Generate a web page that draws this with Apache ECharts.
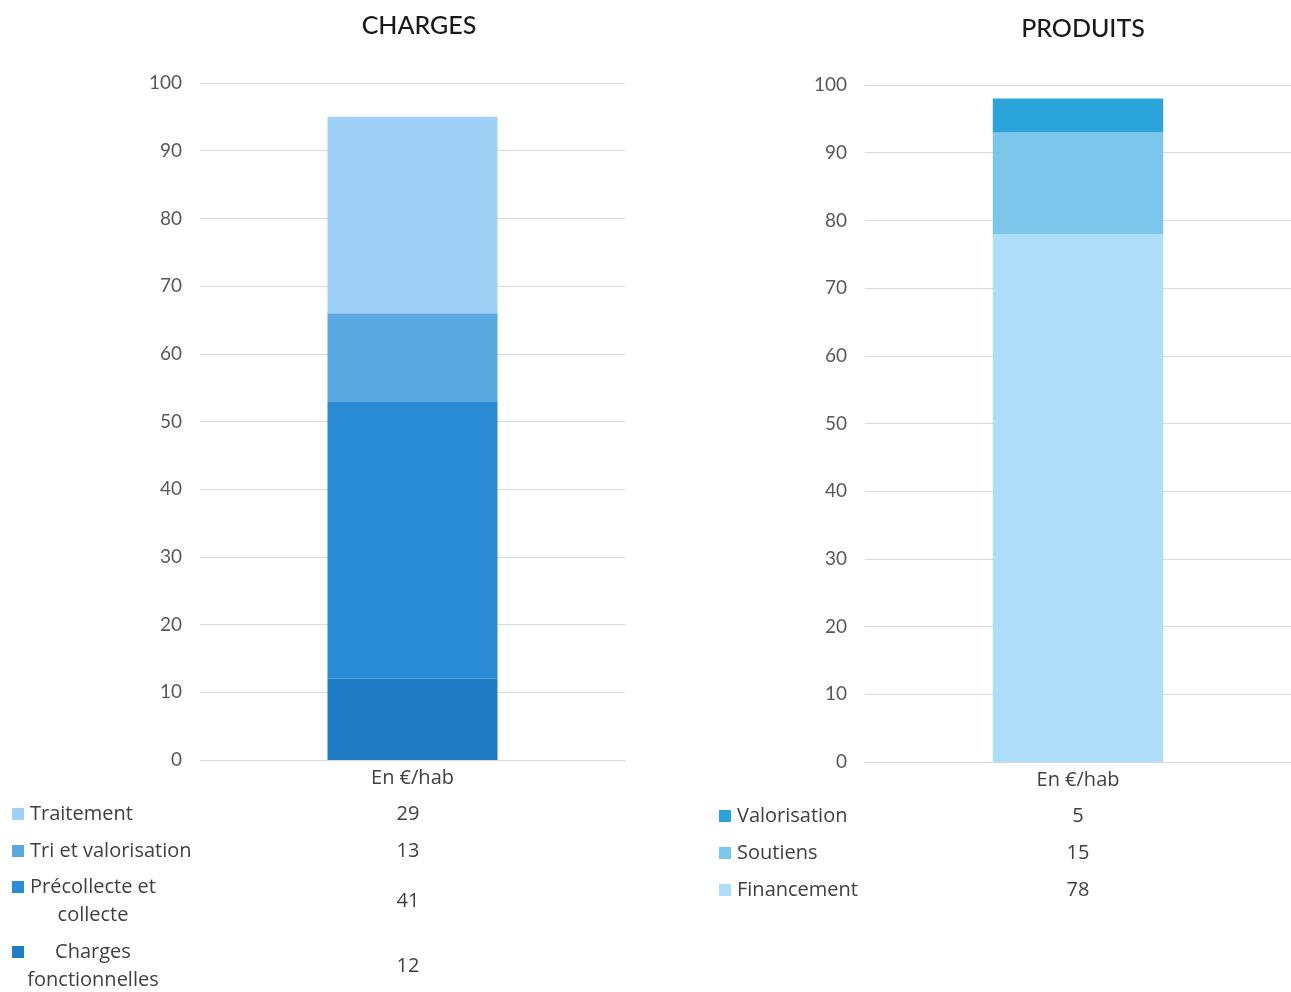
<!DOCTYPE html>
<html>
<head>
<meta charset="utf-8">
<script src="https://cdn.jsdelivr.net/npm/echarts@6/dist/echarts.min.js"></script>
<style>
  html, body { margin: 0; padding: 0; background: #fff; }
  #chart { width: 1291px; height: 992px; }
</style>
</head>
<body>
<div id="chart"></div>
<script>
// catégorie unique
const categories = ['En €/hab'];

// CHARGES, de bas en haut
const chargesNames = ['Charges fonctionnelles', 'Précollecte et collecte', 'Tri et valorisation', 'Traitement'];
const chargesValues = [12, 41, 13, 29];
const chargesColors = ['#1f7cc4', '#2b8cd6', '#5aa8e0', '#9fd0f6'];

// PRODUITS, de bas en haut
const produitsNames = ['Financement', 'Soutiens', 'Valorisation'];
const produitsValues = [78, 15, 5];
const produitsColors = ['#afdef8', '#7cc6eb', '#2ba4db'];

// libellés du tableau (retours à la ligne comme dans l'original)
const chargesTableLabels = {
  'Précollecte et collecte': 'Précollecte et\ncollecte',
  'Charges fonctionnelles': 'Charges\nfonctionnelles',
};

const FONT = 'Lato, "Open Sans", sans-serif';
const TABLE_FONT = '"Open Sans", Lato, sans-serif';
const TEXT = '#404040';

const chart = echarts.init(document.getElementById('chart'));

function yAxis(gridIndex) {
  return {
    type: 'value', gridIndex, min: 0, max: 100, interval: 10,
    axisLine: { show: false }, axisTick: { show: false },
    axisLabel: { fontSize: 19, color: '#595959', fontFamily: FONT, margin: 18 },
    splitLine: { lineStyle: { color: '#d9d9d9', width: 1 } },
  };
}

function xAxis(gridIndex) {
  return {
    type: 'category', gridIndex, data: categories,
    axisLine: { lineStyle: { color: '#d9d9d9' } }, axisTick: { show: false },
    axisLabel: { fontSize: 20, color: TEXT, fontFamily: TABLE_FONT, margin: 8 },
  };
}

function barSeries(names, values, colors, idx, stack) {
  return names.map((name, i) => ({
    type: 'bar', name, stack,
    xAxisIndex: idx, yAxisIndex: idx,
    barWidth: '40%',
    data: [values[i]],
    itemStyle: { color: colors[i] },
  }));
}

// tableau de données sous chaque graphique
function tableGraphic(names, values, colors, tableLabels, opts) {
  const els = [];
  // ordre du tableau : du haut de la pile vers le bas
  const order = names.map((_, i) => i).reverse();
  order.forEach((i, r) => {
    const y = opts.rows[r];
    const label = tableLabels[names[i]] || names[i];
    const lines = label.split('\n');
    const firstY = lines.length > 1 ? y - opts.lineH / 2 : y;
    els.push({
      type: 'rect',
      shape: { x: opts.swatchX, y: firstY - 6, width: 12, height: 12 },
      style: { fill: colors[i] },
    });
    const textStyle = { fontSize: 20, fill: TEXT, fontFamily: TABLE_FONT, verticalAlign: 'middle' };
    if (lines.length > 1) {
      lines.forEach((line, k) => {
        els.push({
          type: 'text', x: opts.wrapCenter, y: firstY + k * opts.lineH,
          style: { ...textStyle, text: line, align: 'center' },
        });
      });
    } else {
      els.push({
        type: 'text', x: opts.textX, y,
        style: { ...textStyle, text: label, align: 'left' },
      });
    }
    els.push({
      type: 'text', x: opts.valueX, y,
      style: { ...textStyle, text: String(values[i]), align: 'center' },
    });
  });
  return els;
}

const graphic = [
  ...tableGraphic(chargesNames, chargesValues, chargesColors, chargesTableLabels, {
    rows: [814, 851, 901, 966], lineH: 28, swatchX: 12, textX: 30, wrapCenter: 93, valueX: 408,
  }),
  ...tableGraphic(produitsNames, produitsValues, produitsColors, {}, {
    rows: [816, 853, 890], lineH: 28, swatchX: 719, textX: 737, wrapCenter: 800, valueX: 1078,
  }),
];

const option = {
  backgroundColor: '#ffffff',
  animation: false,
  title: [
    { text: 'CHARGES', left: 414, top: 8, textAlign: 'center',
      textStyle: { fontSize: 25, fontWeight: 500, color: '#1a1a1a', fontFamily: FONT } },
    { text: 'PRODUITS', left: 1078, top: 11, textAlign: 'center',
      textStyle: { fontSize: 25, fontWeight: 500, color: '#1a1a1a', fontFamily: FONT } },
  ],
  grid: [
    { left: 200, width: 425, top: 83, height: 677 },
    { left: 865, width: 426, top: 85, height: 677 },
  ],
  xAxis: [xAxis(0), xAxis(1)],
  yAxis: [yAxis(0), yAxis(1)],
  series: [
    ...barSeries(chargesNames, chargesValues, chargesColors, 0, 'charges'),
    ...barSeries(produitsNames, produitsValues, produitsColors, 1, 'produits'),
  ],
  graphic,
};

chart.setOption(option);
</script>
</body>
</html>
